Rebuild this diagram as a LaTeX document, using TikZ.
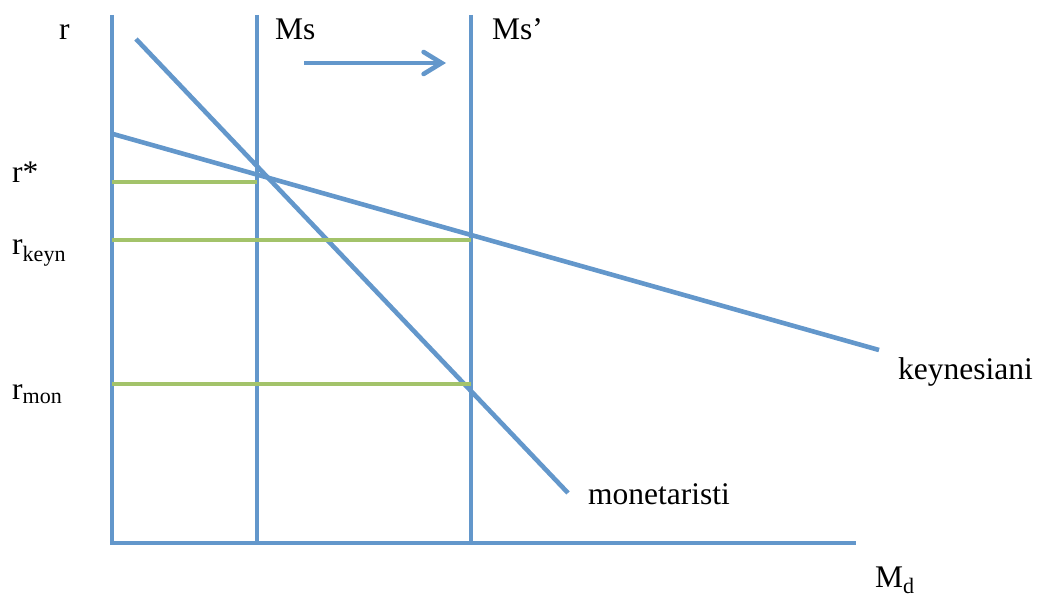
\documentclass[tikz,border=0pt]{standalone}
\usepackage{fontspec}
\setmainfont{Liberation Serif}
\usetikzlibrary{arrows.meta}
\definecolor{curveblue}{HTML}{6397CB}
\definecolor{levelgreen}{HTML}{A3C36A}

\begin{document}
\begin{tikzpicture}[x=1pt, y=-1pt,
  axis/.style={curveblue, line width=4.6pt, line join=miter},
  curve/.style={curveblue, line width=4.6pt},
  level/.style={levelgreen, line width=4.6pt},
  label/.style={black, font=\fontsize{31.5}{38}\selectfont, inner sep=0pt, anchor=base west},
]
\useasboundingbox (0,0) rectangle (1039,601);

% ===== axes =====
\coordinate (ytop) at (112,15);
\coordinate (origin) at (112,543);
\coordinate (xend) at (856,543);
\draw[axis] (ytop) -- (origin) -- (xend);
\node[label] (rlab) at (59,40) {r};
\node[label] (mdlab) at (875,587) {M\textsubscript{d}};

% ===== money supply, before and after =====
\coordinate (mstop) at (257,15);
\coordinate (msbot) at (257,543);
\coordinate (msptop) at (471,15);
\coordinate (mspbot) at (471,543);
\draw[axis] (mstop) -- (msbot);
\draw[axis] (msptop) -- (mspbot);
\node[label] (mslab) at (275,40) {Ms};
\node[label] (msplab) at (492,40) {Ms’};

% shift arrow
\coordinate (shiftfrom) at (304,63);
\coordinate (shiftto) at (446,63);
\draw[curve, -{Straight Barb[length=18pt, width=22pt, line cap=round]}] (shiftfrom) -- (shiftto);

% ===== demand curves =====
\coordinate (keyntop) at (113,134);
\coordinate (keynend) at (879,350);
\draw[curve] (keyntop) -- (keynend);
\node[label] (keynlab) at (898,380) {keynesiani};

\coordinate (montop) at (136,39);
\coordinate (monend) at (568,493);
\draw[curve] (montop) -- (monend);
\node[label] (monlab) at (588,504) {monetaristi};

% ===== interest rate levels =====
\coordinate (rstar) at (112,182);
\coordinate (rstarend) at (257,182);
\draw[level] (rstar) -- (rstarend);
\node[label] (rstarlab) at (12,183) {r*};

\coordinate (rkeyn) at (112,240);
\coordinate (rkeynend) at (471,240);
\draw[level] (rkeyn) -- (rkeynend);
\node[label] (rkeynlab) at (12,255) {r\textsubscript{keyn}};

\coordinate (rmon) at (112,384);
\coordinate (rmonend) at (471,384);
\draw[level] (rmon) -- (rmonend);
\node[label] (rmonlab) at (12,400) {r\textsubscript{mon}};

\end{tikzpicture}
\end{document}
